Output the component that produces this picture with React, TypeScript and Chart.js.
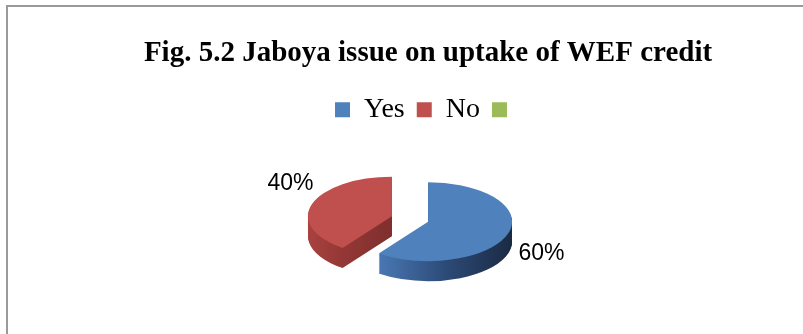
import React, { useEffect, useRef } from 'react';
import { Chart, registerables, layouts } from 'chart.js';

Chart.register(...registerables);

// ---- data ----
const categories = ['Yes', 'No', ''];
const values = [60, 40, 0];
const topColors = ['#4F81BD', '#C0504D', '#9BBB59'];
const titleText = 'Fig. 5.2 Jaboya issue on uptake of WEF credit';

// ---- style constants for the 3-D look ----
const TILT = 0.47;
const DEPTH = 20;
const EXPLODE = 19;
const LABEL_GAP = 29;
const LABEL_SHIFT_X = 6;
const sideStops: Array<Array<[number, string]>> = [
  [[0, '#5083bf'], [0.25, '#4673ad'], [0.6, '#2d4b78'], [1, '#1a2a43']],
  [[0, '#a8423f'], [0.2, '#943836'], [0.5, '#7e2f2d'], [1, '#7e2f2d']],
  [[0, '#7d9a45'], [1, '#5a7030']],
];

function applyTilt(ctx: CanvasRenderingContext2D, cx: number, cy: number, mid: number, dy: number) {
  ctx.translate(0, dy);
  ctx.translate(cx, cy);
  ctx.scale(1, TILT);
  ctx.translate(-cx, -cy);
  ctx.translate(Math.cos(mid) * EXPLODE, Math.sin(mid) * EXPLODE);
}

const pie3d = {
  id: 'pie3d',
  beforeDatasetDraw(chart: any, args: any) {
    const ctx: CanvasRenderingContext2D = chart.ctx;
    const meta = chart.getDatasetMeta(args.index);
    const items = meta.data
      .map((arc: any, i: number) => ({ arc, i, p: arc.getProps(['x', 'y', 'startAngle', 'endAngle', 'outerRadius', 'circumference'], true) }))
      .filter((o: any) => o.p.circumference > 0)
      .sort((a: any, b: any) => Math.sin((a.p.startAngle + a.p.endAngle) / 2) - Math.sin((b.p.startAngle + b.p.endAngle) / 2));
    items.forEach(({ arc, i, p }: any) => {
      const mid = (p.startAngle + p.endAngle) / 2;
      const r = p.outerRadius;
      const grad = ctx.createLinearGradient(p.x - r, 0, p.x + r, 0);
      (sideStops[i] || sideStops[0]).forEach(([o, c]) => grad.addColorStop(o, c));
      for (let d = DEPTH; d >= 1; d--) {
        ctx.save();
        applyTilt(ctx, p.x, p.y, mid, d);
        ctx.beginPath();
        ctx.moveTo(p.x, p.y);
        ctx.arc(p.x, p.y, r, p.startAngle, p.endAngle);
        ctx.closePath();
        ctx.fillStyle = grad;
        ctx.fill();
        ctx.restore();
      }
      ctx.save();
      applyTilt(ctx, p.x, p.y, mid, 0);
      arc.draw(ctx, chart.chartArea);
      ctx.restore();
    });
    return false;
  },
  afterDatasetsDraw(chart: any) {
    const ctx: CanvasRenderingContext2D = chart.ctx;
    const meta = chart.getDatasetMeta(0);
    const data: number[] = chart.data.datasets[0].data;
    const total = data.reduce((s, v) => s + v, 0);
    ctx.save();
    ctx.font = '23px "Liberation Sans", Arial, sans-serif';
    ctx.fillStyle = '#000';
    ctx.textAlign = 'center';
    ctx.textBaseline = 'middle';
    meta.data.forEach((arc: any, i: number) => {
      if (!data[i]) return;
      const p = arc.getProps(['x', 'y', 'startAngle', 'endAngle', 'outerRadius'], true);
      const mid = (p.startAngle + p.endAngle) / 2;
      const L = p.outerRadius + LABEL_GAP;
      const cx = p.x + Math.cos(mid) * EXPLODE;
      const cy = p.y + Math.sin(mid) * EXPLODE * TILT;
      const lx = cx + Math.cos(mid) * L + LABEL_SHIFT_X;
      const ly = cy + Math.sin(mid) * L * 0.93;
      ctx.fillText(Math.round((data[i] / total) * 100) + '%', lx, ly);
    });
    ctx.restore();
  },
};

const rightSpacer = {
  id: 'rightSpacer',
  beforeInit(chart: any) {
    const box: any = {
      position: 'right',
      weight: 0,
      fullSize: false,
      options: {},
      top: 0, left: 0, right: 0, bottom: 0, width: 0, height: 0,
      isHorizontal() { return false; },
      update(_w: number, h: number) { this.width = 36; this.height = h; },
      draw() {},
    };
    layouts.addBox(chart, box);
  },
};

export default function App() {
  const ref = useRef<HTMLCanvasElement>(null);
  useEffect(() => {
    if (!ref.current) return;
    const chart = new Chart(ref.current, {
      type: 'pie',
      data: {
        labels: categories,
        datasets: [{
          data: values,
          backgroundColor: topColors,
          borderWidth: 0,
          offset: 0,
          hoverOffset: 0,
        }],
      },
      options: {
        responsive: false,
        animation: false,
        devicePixelRatio: 1,
        events: [],
        radius: 84,
        layout: { padding: { left: 53, right: 0, top: 0, bottom: 30 } },
        plugins: {
          title: {
            display: true,
            text: titleText,
            color: '#000',
            font: { family: '"Liberation Serif", "Times New Roman", serif', size: 29, weight: 'bold' },
            padding: { top: 36, bottom: 13 },
          },
          legend: {
            display: true,
            position: 'top',
            labels: {
              color: '#000',
              font: { family: '"Liberation Serif", "Times New Roman", serif', size: 28 },
              boxWidth: 15,
              boxHeight: 15,
              padding: 12,
            },
          },
          tooltip: { enabled: false },
        },
      } as any,
      plugins: [pie3d, rightSpacer] as any,
    });
    return () => chart.destroy();
  }, []);

  return (
    <div style={{ position: 'relative', width: 803, height: 334, overflow: 'hidden', background: '#fff' }}>
      <style>{'html,body{margin:0;padding:0;overflow:hidden;background:#fff;}'}</style>
      <div style={{ position: 'absolute', left: 6, top: 5, width: 1200, height: 1200, borderTop: '2px solid #9a9a9a', borderLeft: '2px solid #9a9a9a' }} />
      <canvas ref={ref} width={803} height={334} style={{ position: 'absolute', left: 0, top: 0, width: 803, height: 334 }} />
    </div>
  );
}
